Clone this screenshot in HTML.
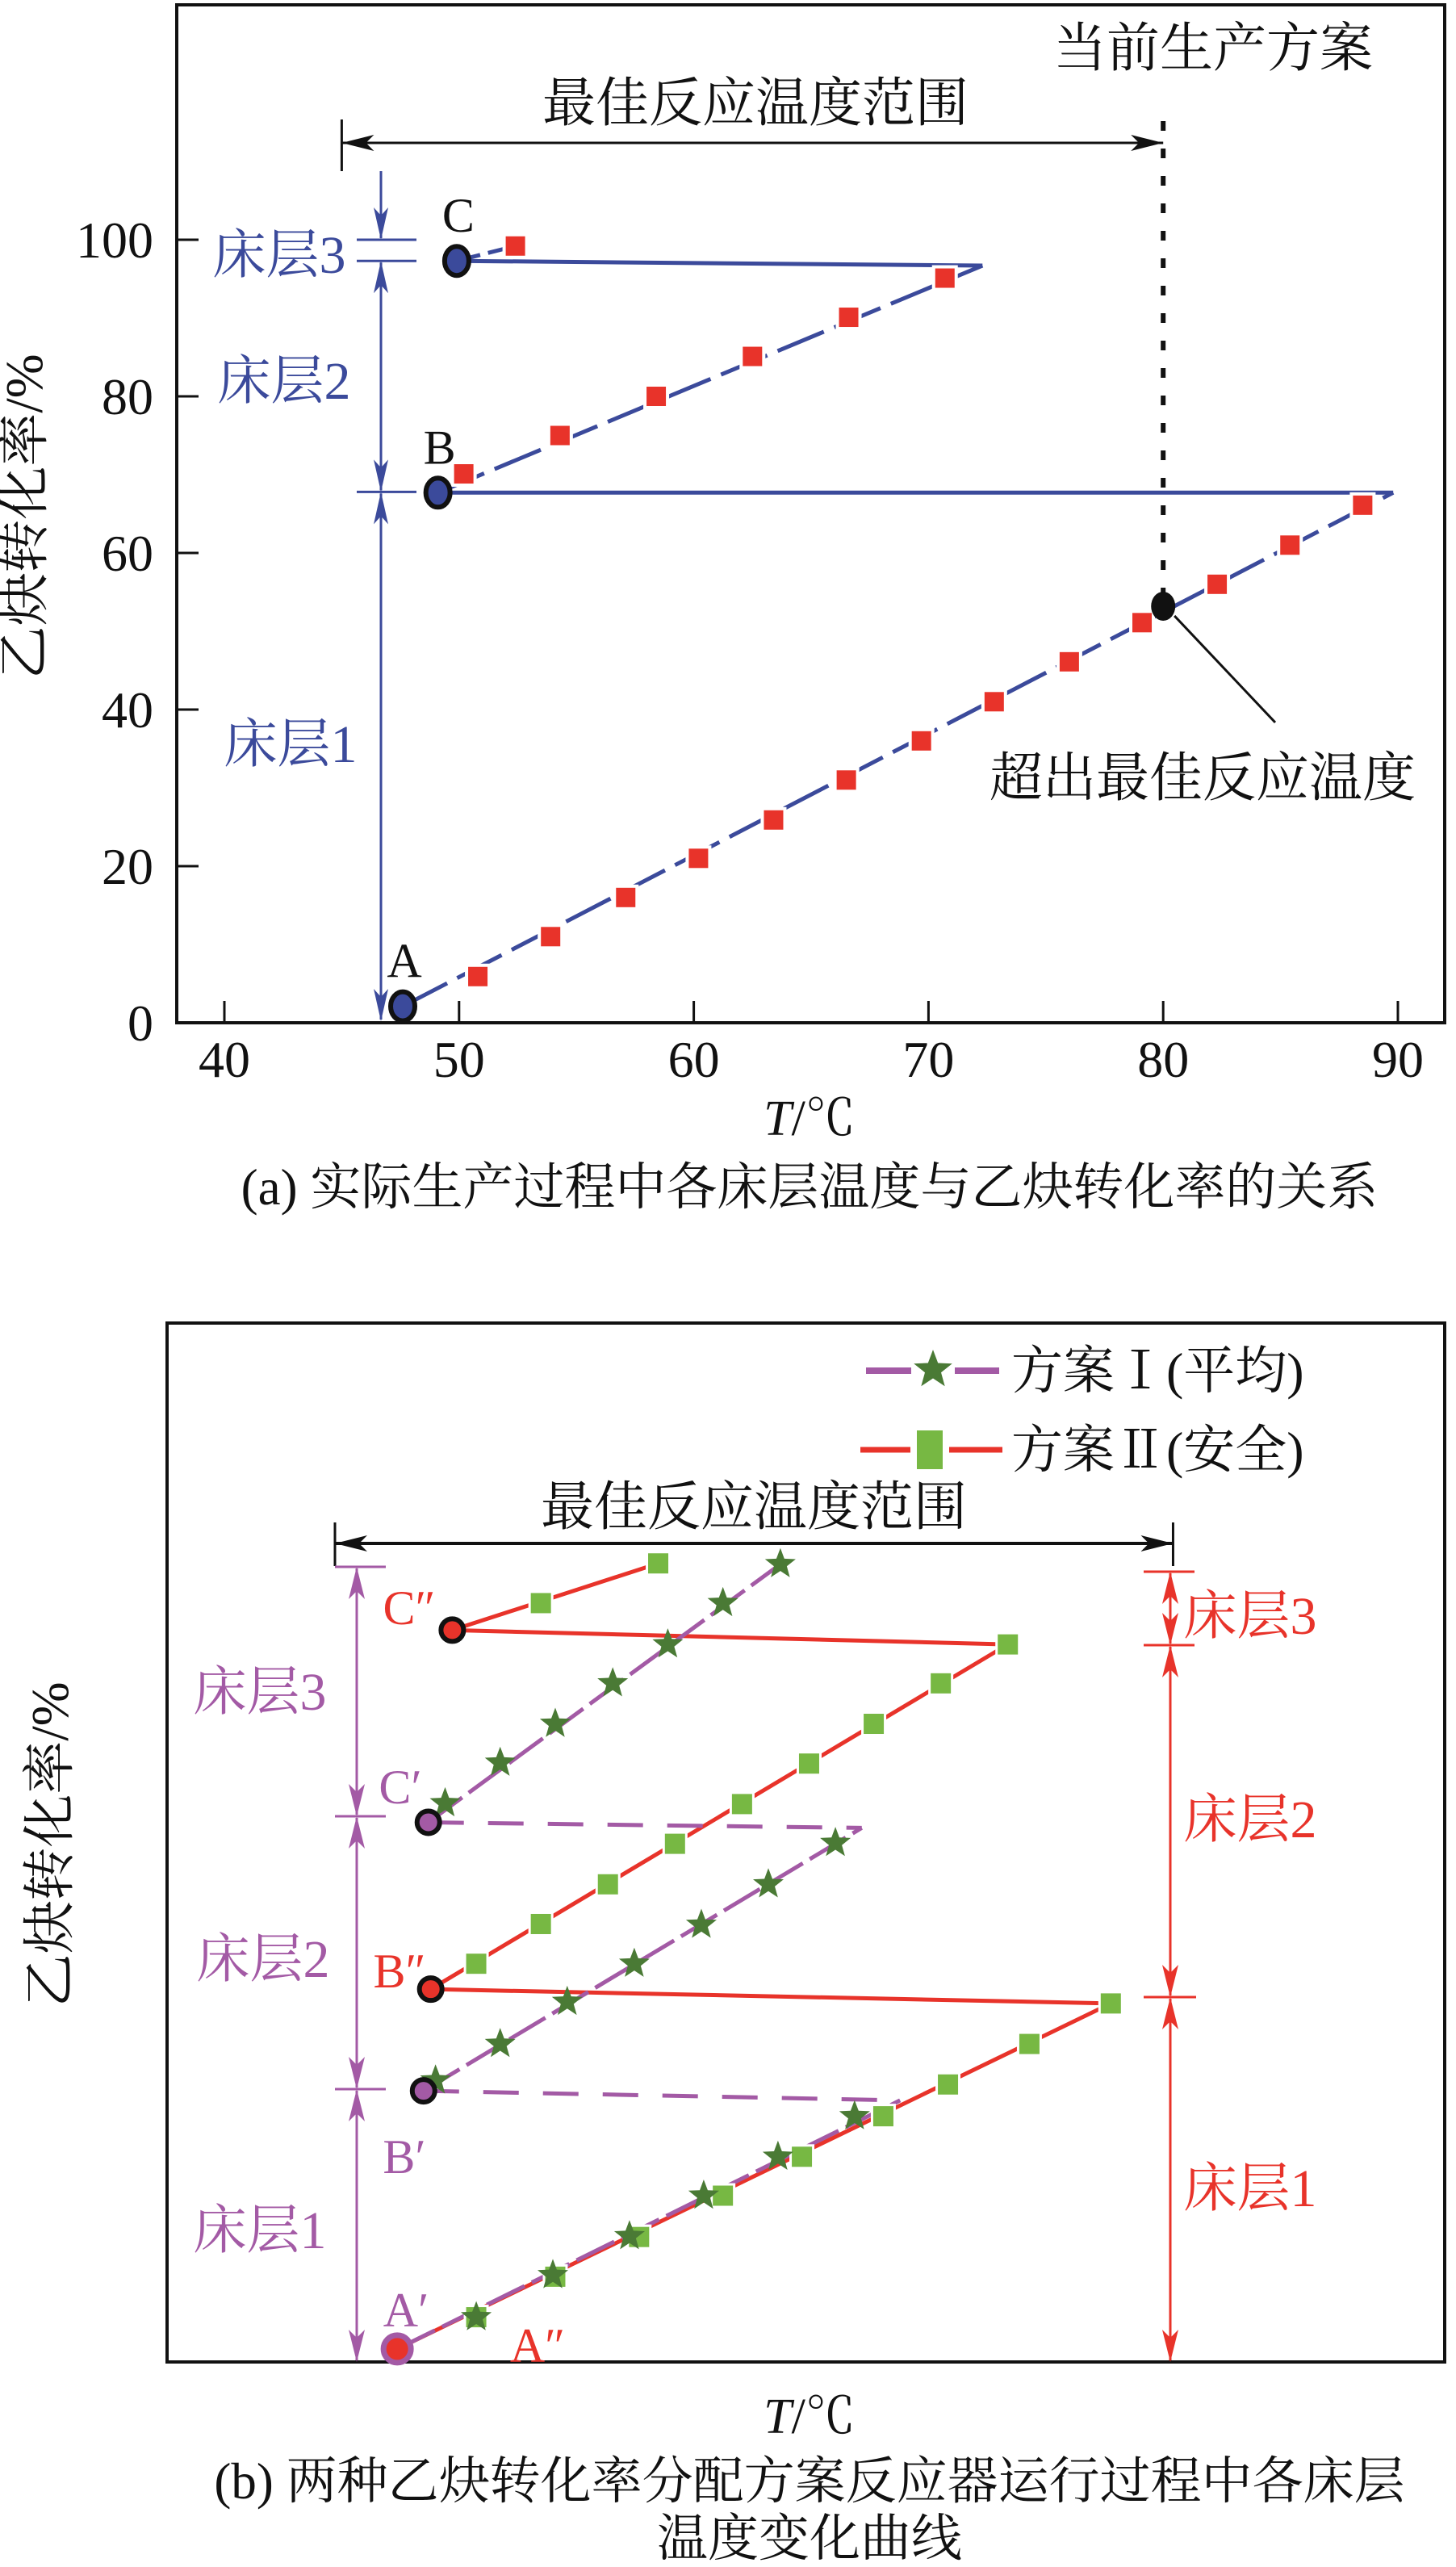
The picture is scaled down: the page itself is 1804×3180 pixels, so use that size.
<!DOCTYPE html>
<html><head><meta charset="utf-8"><style>
html,body{margin:0;padding:0;background:#fff;}
svg{display:block;}
text{font-family:"Liberation Serif","Noto Serif CJK SC","Noto Sans CJK SC",serif;}
</style></head>
<body>
<svg id="chart" width="1804" height="3180" viewBox="0 0 1804 3180" xmlns="http://www.w3.org/2000/svg">
<defs>
<marker id="ab" markerWidth="40" markerHeight="24" refX="38" refY="12" orient="auto-start-reverse" markerUnits="userSpaceOnUse"><path d="M0,3 L40,12 L0,21 L10,12 Z" fill="#3b4a9b"/></marker>
<marker id="ak" markerWidth="40" markerHeight="24" refX="40" refY="12" orient="auto-start-reverse" markerUnits="userSpaceOnUse"><path d="M0,2 L40,12 L0,22 L10,12 Z" fill="#111"/></marker>
<marker id="ap" markerWidth="40" markerHeight="24" refX="38" refY="12" orient="auto-start-reverse" markerUnits="userSpaceOnUse"><path d="M0,2 L40,12 L0,22 L10,12 Z" fill="#a35aa5"/></marker>
<marker id="ar" markerWidth="40" markerHeight="24" refX="38" refY="12" orient="auto-start-reverse" markerUnits="userSpaceOnUse"><path d="M0,2 L40,12 L0,22 L10,12 Z" fill="#e8332a"/></marker>
</defs>
<g id="top"></g>
<g id="bot"></g>
</svg>
<script>
// ---------- Chart (a) data ----------
var xTicksA = [40, 50, 60, 70, 80, 90];
var yTicksA = [0, 20, 40, 60, 80, 100];
var bed1T = [50.8, 53.9, 57.1, 60.2, 63.4, 66.5, 69.7, 72.8, 76.0, 79.1, 82.3, 85.4, 88.5];
var bed1V = [5.9, 11.0, 16.0, 21.0, 25.9, 31.0, 36.0, 41.0, 46.1, 51.1, 56.0, 61.0, 66.1];
var bed2T = [50.2, 54.3, 58.4, 62.5, 66.6, 70.7];
var bed2V = [70.1, 75.0, 80.0, 85.1, 90.1, 95.1];
var bed3T = [52.4];
var bed3V = [99.2];
var startT = [47.6, 49.1, 49.9];   // A, B, C
var startV = [2.1, 67.7, 97.3];
var endT = [89.8, 72.3];           // end of bed1, bed2
var endV = [67.7, 96.7];
var overT = [80.0];
var overV = [53.2];

// ---------- Chart (b) data ----------
var s1b1T = [50.9, 54.1, 57.3, 60.4, 63.5, 66.7];
var s1b1V = [6.0, 11.3, 16.2, 21.3, 26.2, 31.3];
var s1b2T = [49.2, 51.9, 54.7, 57.5, 60.3, 63.1, 65.9];
var s1b2V = [35.8, 40.4, 45.7, 50.5, 55.4, 60.5, 65.7];
var s1b3T = [49.6, 51.9, 54.2, 56.6, 58.9, 61.2, 63.6];
var s1b3V = [70.7, 75.8, 80.7, 85.8, 90.7, 95.9, 100.8];
var s1StartT = [47.6, 48.7, 48.9];  // A', B', C'
var s1StartV = [2.0, 34.5, 68.3];
var s1EndT = [68.6, 67.0];
var s1EndV = [33.3, 67.6];
var s2b1T = [50.9, 54.2, 57.7, 61.2, 64.5, 67.9, 70.6, 74.0, 77.4];
var s2b1V = [6.0, 11.1, 16.1, 21.3, 26.2, 31.3, 35.3, 40.4, 45.5];
var s2b2T = [50.9, 53.6, 56.4, 59.2, 62.0, 64.8, 67.5, 70.3, 73.1];
var s2b2V = [50.5, 55.5, 60.5, 65.6, 70.6, 75.7, 80.7, 85.8, 90.7];
var s2b3T = [53.6, 58.5];
var s2b3V = [95.9, 100.9];
var s2StartT = [47.6, 49.0, 49.9];  // A'', B'', C''
var s2StartV = [2.0, 47.3, 92.5];

var NS = 'http://www.w3.org/2000/svg';
function mk(parent, tag, attrs, txt){
  var e = document.createElementNS(NS, tag);
  for (var k in attrs) e.setAttribute(k, attrs[k]);
  if (txt !== undefined) e.textContent = txt;
  parent.appendChild(e); return e;
}
var top_ = document.getElementById('top');
var bot = document.getElementById('bot');

function XA(t){ return 278 + (t - 40) * 29.08; }
function YA(v){ return 1267 - v * 9.7; }
function XB(t){ return 415 + (t - 45) * 29.67; }
function YB(v){ return 2929.6 - v * 9.84; }

var BLUE = '#3b4a9b', RED = '#e8332a', PUR = '#a35aa5', GRN = '#4a7a35', LGRN = '#77b843';
var CJK = 66, BEDF = 66, CAP = 63;

// ===================== Chart (a) =====================
var e;
e = mk(top_, 'rect', {x:219, y:6, width:1571, height:1261, fill:'none', stroke:'#111', 'stroke-width':4});


xTicksA.forEach(function(t){
  e = mk(top_, 'line', {x1:XA(t), x2:XA(t), y1:1267, y2:1240, stroke:'#111', 'stroke-width':3});
  
  
  e = mk(top_, 'text', {x:XA(t), y:1334, 'font-size':64, 'text-anchor':'middle', fill:'#111'}, String(t));
  
  
});
yTicksA.forEach(function(v){
  e = mk(top_, 'line', {x1:219, x2:246, y1:YA(v), y2:YA(v), stroke:'#111', 'stroke-width':3});
  
  
  e = mk(top_, 'text', {x:190, y:YA(v) + 22, 'font-size':64, 'text-anchor':'end', fill:'#111'}, String(v));
  
  
});
e = mk(top_, 'text', {x:0, y:0, 'font-size':CJK, 'text-anchor':'middle', fill:'#111', transform:'translate(52,640) rotate(-90)'}, '乙炔转化率/%');


e = mk(top_, 'text', {x:1003, y:1406, 'font-size':62, 'text-anchor':'middle', fill:'#111'});


e.innerHTML = '<tspan font-style="italic">T</tspan>/℃';
e = mk(top_, 'text', {x:1003, y:1492, 'font-size':CAP, 'text-anchor':'middle', fill:'#111'}, '(a) 实际生产过程中各床层温度与乙炔转化率的关系');



e = mk(top_, 'line', {x1:XA(45), x2:XA(45), y1:148, y2:212, stroke:'#111', 'stroke-width':3});


e = mk(top_, 'line', {x1:XA(45), x2:XA(80), y1:177, y2:177, stroke:'#111', 'stroke-width':3, 'marker-start':'url(#ak)', 'marker-end':'url(#ak)'});


e = mk(top_, 'text', {x:936, y:150, 'font-size':CJK, 'text-anchor':'middle', fill:'#111'}, '最佳反应温度范围');


e = mk(top_, 'line', {x1:XA(80), x2:XA(80), y1:150, y2:740, stroke:'#111', 'stroke-width':6, 'stroke-dasharray':'12 22'});


e = mk(top_, 'text', {x:1503, y:82, 'font-size':CJK, 'text-anchor':'middle', fill:'#111'}, '当前生产方案');



function dashLine(g, x1, y1, x2, y2, col, dash, name){
  var l = mk(g, 'line', {x1:x1, y1:y1, x2:x2, y2:y2, stroke:col, 'stroke-width':5, 'stroke-dasharray':dash||'none'});
  
  
}
dashLine(top_, XA(startT[0]), YA(startV[0]), XA(endT[0]), YA(endV[0]), BLUE, '62 14', 'bed1-line');
dashLine(top_, XA(startT[1]), YA(startV[1]), XA(endT[0]), YA(endV[0]), BLUE, null, 'bed1-to-bed2-quench-line');
dashLine(top_, XA(startT[1]), YA(startV[1]), XA(endT[1]), YA(endV[1]), BLUE, '62 14', 'bed2-line');
dashLine(top_, XA(startT[2]), YA(startV[2]), XA(endT[1]), YA(endV[1]), BLUE, null, 'bed2-to-bed3-quench-line');
dashLine(top_, XA(startT[2]), YA(startV[2]), XA(bed3T[0]), YA(bed3V[0]), BLUE, '30 10', 'bed3-line');

function squaresA(T, V, name){
  T.forEach(function(t, i){
    var s = mk(top_, 'rect', {x:XA(t)-14, y:YA(V[i])-14, width:28, height:28, fill:RED, stroke:'#fff', 'stroke-width':4});
    
    
  });
}
squaresA(bed1T, bed1V, 'bed1-point');
squaresA(bed2T, bed2V, 'bed2-point');
squaresA(bed3T, bed3V, 'bed3-point');

var startNames = ['A', 'B', 'C'];
startT.forEach(function(t, i){
  var c = mk(top_, 'ellipse', {cx:XA(t), cy:YA(startV[i]), rx:15, ry:18, fill:BLUE, stroke:'#111', 'stroke-width':6});
  
  
  var l = mk(top_, 'text', {x:XA(t) + 2, y:YA(startV[i]) - 36, 'font-size':60, 'text-anchor':'middle', fill:'#111'}, startNames[i]);
  
  
});
e = mk(top_, 'ellipse', {cx:XA(overT[0]), cy:YA(overV[0]), rx:15, ry:18, fill:'#111'});


e = mk(top_, 'line', {x1:XA(overT[0]) + 14, y1:YA(overV[0]) + 12, x2:1580, y2:895, stroke:'#111', 'stroke-width':3});


e = mk(top_, 'text', {x:1490, y:986, 'font-size':CJK, 'text-anchor':'middle', fill:'#111'}, '超出最佳反应温度');



var ax = 472;
function vArrow(g, x, y1, y2, col, mid, both, name){
  var l = mk(g, 'line', {x1:x, x2:x, y1:y1, y2:y2, stroke:col, 'stroke-width':3, 'marker-end':'url(#' + mid + ')'});
  if (both) l.setAttribute('marker-start', 'url(#' + mid + ')');
  
  
}
function hTick(g, x1, x2, y, col, name){
  var l = mk(g, 'line', {x1:x1, x2:x2, y1:y, y2:y, stroke:col, 'stroke-width':3});
  
  
}
vArrow(top_, ax, 212, YA(100) - 2, BLUE, 'ab', false, 'bed3-arrow');
hTick(top_, 442, 516, YA(100), BLUE, 'bed3-top-tick');
hTick(top_, 442, 516, YA(97.3), BLUE, 'bed3-bottom-tick');
vArrow(top_, ax, YA(97.3) + 2, YA(67.8) - 2, BLUE, 'ab', true, 'bed2-arrow');
hTick(top_, 442, 516, YA(67.8), BLUE, 'bed2-bottom-tick');
vArrow(top_, ax, YA(67.8) + 2, YA(0) - 4, BLUE, 'ab', true, 'bed1-arrow');
[['床层3', 346, 338], ['床层2', 352, 494], ['床层1', 360, 944]].forEach(function(b, i){
  var t = mk(top_, 'text', {x:b[1], y:b[2], 'font-size':BEDF, 'text-anchor':'middle', fill:BLUE}, b[0]);
  
  
});

// ===================== Chart (b) =====================
e = mk(bot, 'rect', {x:207, y:1639, width:1583, height:1287, fill:'none', stroke:'#111', 'stroke-width':4});


e = mk(bot, 'text', {x:0, y:0, 'font-size':CJK, 'text-anchor':'middle', fill:'#111', transform:'translate(84,2285) rotate(-90)'}, '乙炔转化率/%');


e = mk(bot, 'text', {x:1003, y:3014, 'font-size':62, 'text-anchor':'middle', fill:'#111'});


e.innerHTML = '<tspan font-style="italic">T</tspan>/℃';
e = mk(bot, 'text', {x:1003, y:3095, 'font-size':CAP, 'text-anchor':'middle', fill:'#111'}, '(b) 两种乙炔转化率分配方案反应器运行过程中各床层');


e = mk(bot, 'text', {x:1003, y:3166, 'font-size':CAP, 'text-anchor':'middle', fill:'#111'}, '温度变化曲线');



e = mk(bot, 'line', {x1:1073, x2:1238, y1:1698, y2:1698, stroke:PUR, 'stroke-width':8, 'stroke-dasharray':'56 54'});


function star(g, cx, cy, r, name){
  var pts = [];
  for (var k = 0; k < 10; k++){
    var rr = k % 2 === 0 ? r : r * 0.42, a = -Math.PI / 2 + k * Math.PI / 5;
    pts.push((cx + rr * Math.cos(a)).toFixed(1) + ',' + (cy + rr * Math.sin(a)).toFixed(1));
  }
  var p = mk(g, 'polygon', {points:pts.join(' '), fill:GRN});
  
  
}
star(bot, 1156, 1697, 25, 'legend-star');
e = mk(bot, 'text', {x:1253, y:1720, 'font-size':64, fill:'#111'}, '方案Ⅰ(平均)');


e = mk(bot, 'line', {x1:1066, x2:1242, y1:1796, y2:1796, stroke:RED, 'stroke-width':7});


e = mk(bot, 'rect', {x:1132, y:1768, width:40, height:56, fill:LGRN, stroke:'#fff', 'stroke-width':8});


e = mk(bot, 'text', {x:1253, y:1818, 'font-size':64, fill:'#111'}, '方案Ⅱ(安全)');



e = mk(bot, 'line', {x1:XB(45), x2:XB(45), y1:1886, y2:1940, stroke:'#111', 'stroke-width':3});


e = mk(bot, 'line', {x1:XB(80), x2:XB(80), y1:1886, y2:1940, stroke:'#111', 'stroke-width':3});


e = mk(bot, 'line', {x1:XB(45), x2:XB(80), y1:1912, y2:1912, stroke:'#111', 'stroke-width':4, 'marker-start':'url(#ak)', 'marker-end':'url(#ak)'});


e = mk(bot, 'text', {x:934, y:1889, 'font-size':CJK, 'text-anchor':'middle', fill:'#111'}, '最佳反应温度范围');



function lineB(x1, y1, x2, y2, col, dash, name){
  var l = mk(bot, 'line', {x1:x1, y1:y1, x2:x2, y2:y2, stroke:col, 'stroke-width':5, 'stroke-dasharray':dash||'none'});
  
  
}
var l1 = s2b1T.length - 1, l2 = s2b2T.length - 1;
lineB(XB(s2StartT[0]), YB(s2StartV[0]), XB(s2b1T[l1]), YB(s2b1V[l1]), RED, null, 'plan2-bed1-line');
lineB(XB(s2StartT[1]), YB(s2StartV[1]), XB(s2b1T[l1]), YB(s2b1V[l1]), RED, null, 'plan2-quench1-line');
lineB(XB(s2StartT[1]), YB(s2StartV[1]), XB(s2b2T[l2]), YB(s2b2V[l2]), RED, null, 'plan2-bed2-line');
lineB(XB(s2StartT[2]), YB(s2StartV[2]), XB(s2b2T[l2]), YB(s2b2V[l2]), RED, null, 'plan2-quench2-line');
lineB(XB(s2StartT[2]), YB(s2StartV[2]), XB(s2b3T[1]), YB(s2b3V[1]), RED, null, 'plan2-bed3-line');
lineB(XB(s1StartT[0]), YB(s1StartV[0]), XB(s1EndT[0]), YB(s1EndV[0]), PUR, '52 10', 'plan1-bed1-line');
lineB(XB(s1StartT[1]), YB(s1StartV[1]), XB(s1EndT[0]), YB(s1EndV[0]), PUR, '44 30', 'plan1-quench1-line');
lineB(XB(s1StartT[1]), YB(s1StartV[1]), XB(s1EndT[1]), YB(s1EndV[1]), PUR, '52 10', 'plan1-bed2-line');
lineB(XB(s1StartT[2]), YB(s1StartV[2]), XB(s1EndT[1]), YB(s1EndV[1]), PUR, '44 30', 'plan1-quench2-line');
var l3 = s1b3T.length - 1;
lineB(XB(s1StartT[2]), YB(s1StartV[2]), XB(s1b3T[l3]), YB(s1b3V[l3]), PUR, '52 10', 'plan1-bed3-line');

function squaresB(T, V, name){
  T.forEach(function(t, i){
    var s = mk(bot, 'rect', {x:XB(t)-14, y:YB(V[i])-14, width:28, height:28, fill:LGRN, stroke:'#fff', 'stroke-width':3});
    
    
  });
}
squaresB(s2b1T, s2b1V, 'plan2-bed1-point');
squaresB(s2b2T, s2b2V, 'plan2-bed2-point');
squaresB(s2b3T, s2b3V, 'plan2-bed3-point');
function starsB(T, V, name){ T.forEach(function(t, i){ star(bot, XB(t), YB(V[i]), 20, name); }); }
starsB(s1b1T, s1b1V, 'plan1-bed1-point');
starsB(s1b2T, s1b2V, 'plan1-bed2-point');
starsB(s1b3T, s1b3V, 'plan1-bed3-point');

e = mk(bot, 'circle', {cx:XB(s1StartT[0]), cy:YB(s1StartV[0]), r:17, fill:RED, stroke:PUR, 'stroke-width':7});


[1, 2].forEach(function(i){
  var c = mk(bot, 'circle', {cx:XB(s1StartT[i]), cy:YB(s1StartV[i]), r:14, fill:PUR, stroke:'#111', 'stroke-width':6});
  
  
  var d = mk(bot, 'circle', {cx:XB(s2StartT[i]), cy:YB(s2StartV[i]), r:14, fill:RED, stroke:'#111', 'stroke-width':6});
  
  
});
[["C′", 496, 2234, PUR], ["B′", 501, 2692, PUR], ["A′", 503, 2882, PUR], ["C″", 507, 2012, RED], ["B″", 495, 2462, RED], ["A″", 666, 2926, RED]].forEach(function(p){
  var t = mk(bot, 'text', {x:p[1], y:p[2], 'font-size':60, 'text-anchor':'middle', fill:p[3]}, p[0]);
  
  
});

var pxL = 442;
hTick(bot, 415, 478, 1941, PUR, 'plan1-bed3-top-tick');
hTick(bot, 415, 478, 2250, PUR, 'plan1-bed3-bottom-tick');
hTick(bot, 415, 478, 2588, PUR, 'plan1-bed2-bottom-tick');
vArrow(bot, pxL, 1943, 2248, PUR, 'ap', true, 'plan1-bed3-arrow');
vArrow(bot, pxL, 2252, 2586, PUR, 'ap', true, 'plan1-bed2-arrow');
vArrow(bot, pxL, 2590, 2924, PUR, 'ap', true, 'plan1-bed1-arrow');
[['床层3', 322, 2118], ['床层2', 326, 2449], ['床层1', 322, 2785]].forEach(function(b, i){
  var t = mk(bot, 'text', {x:b[1], y:b[2], 'font-size':BEDF, 'text-anchor':'middle', fill:PUR}, b[0]);
  
  
});
var pxR = 1450;
hTick(bot, 1417, 1480, 1947, RED, 'plan2-bed3-top-tick');
hTick(bot, 1417, 1480, 2038, RED, 'plan2-bed3-bottom-tick');
hTick(bot, 1417, 1482, 2474, RED, 'plan2-bed2-bottom-tick');
vArrow(bot, pxR, 1949, 2036, RED, 'ar', true, 'plan2-bed3-arrow');
vArrow(bot, pxR, 2040, 2472, RED, 'ar', true, 'plan2-bed2-arrow');
vArrow(bot, pxR, 2476, 2924, RED, 'ar', true, 'plan2-bed1-arrow');
[['床层3', 1549, 2024], ['床层2', 1549, 2276], ['床层1', 1549, 2733]].forEach(function(b, i){
  var t = mk(bot, 'text', {x:b[1], y:b[2], 'font-size':BEDF, 'text-anchor':'middle', fill:RED}, b[0]);
  
  
});
</script>
</body></html>
